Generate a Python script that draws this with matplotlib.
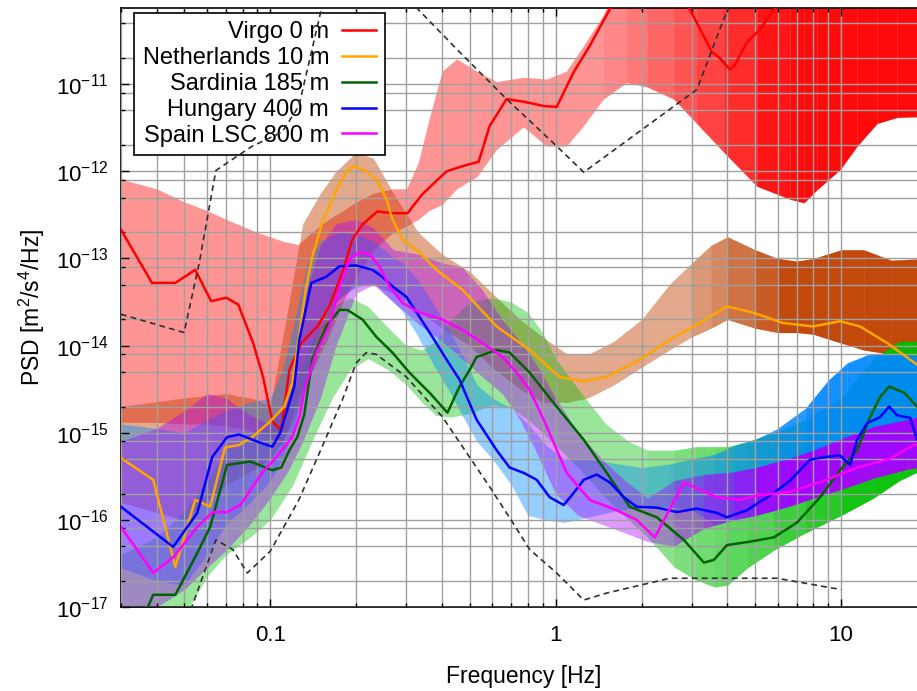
import numpy as np
import matplotlib as mpl
mpl.use('Agg')
import matplotlib.pyplot as plt
from matplotlib.ticker import LogLocator, NullFormatter, FixedLocator, FixedFormatter

plt.rcParams['font.family'] = ['Liberation Sans', 'DejaVu Sans']
plt.rcParams['mathtext.default'] = 'regular'
plt.rcParams['axes.unicode_minus'] = False

# ---- data (PSD given as log10 values) ----
# Virgo 0 m
virgo_f = [0.03, 0.0385, 0.0465, 0.0546, 0.0621, 0.0701, 0.0773, 0.0871, 0.0944, 0.1017,
           0.1093, 0.1167, 0.1285, 0.1462, 0.161, 0.179, 0.194, 0.2104, 0.2373, 0.268,
           0.3027, 0.3415, 0.4146, 0.472, 0.537, 0.587, 0.673, 0.772, 0.908, 1.008,
           1.157, 1.316, 1.547, 1.8, 2.6, 2.951, 3.527, 3.76, 4.08, 4.246,
           4.677, 5.196, 5.82, 7.0, 20]
virgo_psd = [-12.67, -13.28, -13.28, -13.13, -13.49, -13.45, -13.53, -13.97, -14.36, -14.87,
             -14.97, -14.28, -13.97, -13.78, -13.55, -13.16, -12.78, -12.61, -12.46, -12.48,
             -12.48, -12.26, -12.0, -11.94, -11.89, -11.48, -11.17, -11.2, -11.25, -11.26,
             -10.86, -10.56, -10.14, -9.8, -9.8, -10.14, -10.63, -10.7, -10.83, -10.78,
             -10.52, -10.37, -10.14, -9.8, -9.8]
virgo_band_f = [0.03, 0.04, 0.05, 0.06, 0.07, 0.08, 0.09, 0.1, 0.11, 0.125,
                0.14, 0.16, 0.18, 0.2, 0.23, 0.27, 0.3, 0.33, 0.36, 0.4,
                0.45, 0.53, 0.62, 0.77, 0.93, 1.09, 1.25, 1.47, 1.77, 2.09,
                2.59, 3.12, 3.88, 5.07, 6.62, 7.42, 8.24, 9.92, 11.38, 13.37,
                15.72, 20]
virgo_lo = [-14.88, -14.88, -14.9, -14.9, -14.92, -14.95, -15.0, -15.05, -15.15, -14.6,
            -14.3, -13.9, -13.5, -13.2, -12.9, -12.7, -12.63, -12.55, -12.45, -12.38,
            -12.2, -12.06, -11.75, -11.49, -11.71, -11.71, -11.48, -11.17, -10.98, -11.03,
            -11.17, -11.45, -11.78, -12.17, -12.32, -12.36, -12.21, -11.98, -11.71, -11.45,
            -11.38, -11.37]
virgo_hi = [-12.09, -12.2, -12.35, -12.45, -12.55, -12.63, -12.7, -12.75, -12.8, -12.84,
            -12.7, -12.55, -12.45, -12.35, -12.25, -12.2, -12.2, -11.9, -11.4, -10.85,
            -10.71, -10.85, -10.97, -10.92, -10.94, -10.85, -10.56, -10.2, -9.6, -9.5,
            -9.5, -9.5, -9.5, -9.5, -9.5, -9.5, -9.5, -9.5, -9.5, -9.5,
            -9.5, -9.5]

# Netherlands 10 m
nl_f = [0.03, 0.0389, 0.0465, 0.0546, 0.0616, 0.0694, 0.0778, 0.0865, 0.1, 0.112,
        0.1194, 0.1337, 0.1403, 0.1521, 0.1706, 0.1849, 0.197, 0.2173, 0.2355, 0.2553,
        0.268, 0.2904, 0.3334, 0.3822, 0.472, 0.621, 0.811, 1.033, 1.244, 1.51,
        1.972, 2.574, 3.125, 3.981, 4.9, 6.26, 7.98, 9.92, 11.66, 14.5,
        18.49, 20]
nl_psd = [-15.29, -15.54, -16.54, -15.77, -15.85, -15.17, -15.14, -15.05, -14.87, -14.7,
          -14.43, -13.32, -12.98, -12.59, -12.21, -12.0, -11.94, -12.0, -12.09, -12.32,
          -12.55, -12.78, -12.93, -13.13, -13.36, -13.78, -14.05, -14.36, -14.41, -14.36,
          -14.16, -13.91, -13.76, -13.55, -13.62, -13.74, -13.78, -13.72, -13.78, -13.97,
          -14.22, -14.3]
nl_band_f = [0.03, 0.05, 0.07, 0.09, 0.1, 0.115, 0.13, 0.15, 0.17, 0.2,
             0.23, 0.27, 0.33, 0.4, 0.5, 0.6, 0.75, 0.9, 1.1, 1.3,
             1.6, 2.0, 2.5, 3.0, 3.5, 4.0, 5.0, 6.0, 7.0, 8.0,
             10, 12, 15, 20]
nl_lo = [-15.8, -16.0, -15.6, -15.4, -15.3, -15.0, -14.6, -14.0, -13.5, -13.3,
         -13.3, -13.4, -13.6, -13.8, -14.0, -14.25, -14.5, -14.65, -14.65, -14.6,
         -14.45, -14.25, -14.05, -13.9, -13.8, -13.7, -13.8, -13.85, -13.85, -13.87,
         -13.97, -14.05, -14.1, -14.2]
nl_hi = [-14.7, -14.6, -14.55, -14.62, -14.7, -13.6, -12.6, -12.25, -12.0, -11.78,
         -11.85, -12.25, -12.7, -12.95, -13.15, -13.4, -13.7, -13.9, -14.1, -14.1,
         -13.95, -13.7, -13.3, -13.05, -12.85, -12.75, -12.9, -13.0, -13.03, -13.0,
         -12.9, -12.9, -13.02, -13.0]

# Sardinia 185 m
sar_f = [0.035, 0.0389, 0.0465, 0.0555, 0.0616, 0.0706, 0.0851, 0.1017, 0.1093, 0.1167,
         0.1244, 0.1316, 0.1403, 0.1571, 0.1748, 0.1862, 0.2104, 0.2355, 0.268, 0.3074,
         0.3615, 0.4178, 0.4604, 0.4993, 0.5284, 0.587, 0.621, 0.69, 0.811, 1.008,
         1.254, 1.51, 1.818, 2.261, 2.812, 3.306, 3.583, 3.981, 4.795, 5.82,
         7.01, 8.44, 9.92, 11.38, 12.64, 13.7, 14.73, 16.63, 18.49, 20]
sar_psd = [-17.2, -16.86, -16.86, -16.38, -16.08, -15.37, -15.33, -15.43, -15.4, -15.2,
           -15.05, -14.79, -14.16, -13.78, -13.59, -13.59, -13.7, -13.9, -14.08, -14.31,
           -14.54, -14.77, -14.47, -14.28, -14.13, -14.08, -14.05, -14.08, -14.31, -14.7,
           -15.08, -15.46, -15.85, -15.97, -16.23, -16.49, -16.46, -16.29, -16.25, -16.2,
           -16.03, -15.74, -15.43, -15.2, -14.82, -14.59, -14.47, -14.54, -14.7, -14.8]
sar_band_f = [0.03, 0.04, 0.05, 0.06, 0.07, 0.085, 0.1, 0.12, 0.14, 0.165,
              0.19, 0.22, 0.26, 0.3, 0.34, 0.38, 0.43, 0.5, 0.6, 0.7,
              0.8, 0.9, 1.0, 1.2, 1.5, 1.8, 2.1, 2.6, 3.1, 3.6,
              4.0, 4.7, 5.8, 7.5, 10, 13, 16, 20]
sar_lo = [-17.6, -17.35, -17.1, -16.65, -16.4, -16.2, -16.0, -15.6, -15.1, -14.6,
          -14.28, -14.15, -14.28, -14.45, -14.65, -14.8, -14.82, -14.78, -14.68, -14.72,
          -14.85, -15.0, -15.15, -15.4, -15.75, -16.0, -16.2, -16.54, -16.69, -16.77,
          -16.75, -16.55, -16.35, -16.15, -15.95, -15.75, -15.55, -15.4]
sar_hi = [-16.4, -16.2, -15.9, -15.55, -15.2, -15.0, -14.9, -14.5, -13.95, -13.55,
          -13.45, -13.55, -13.8, -14.0, -14.05, -13.95, -13.7, -13.5, -13.45, -13.5,
          -13.62, -13.85, -14.15, -14.5, -14.9, -15.1, -15.2, -15.2, -15.16, -15.16,
          -15.16, -15.1, -15.0, -14.85, -14.6, -14.15, -13.95, -13.95]

# Hungary 400 m
hu_f = [0.03, 0.0457, 0.0555, 0.0626, 0.0706, 0.0778, 0.0915, 0.1017, 0.1084, 0.1214,
        0.1265, 0.1393, 0.1571, 0.1748, 0.2, 0.228, 0.247, 0.268, 0.2999, 0.3334,
        0.37, 0.4146, 0.4604, 0.5284, 0.621, 0.69, 0.772, 0.858, 0.953, 1.067,
        1.157, 1.254, 1.393, 1.547, 1.732, 1.923, 2.261, 2.66, 3.125, 3.672,
        3.981, 4.677, 5.82, 6.62, 7.78, 8.72, 9.92, 10.76, 11.38, 12.34,
        13.7, 14.73, 15.72, 17.47, 18.49, 20]
hu_psd = [-15.85, -16.31, -15.92, -15.28, -15.05, -15.02, -15.11, -15.16, -15.0, -14.47,
          -13.93, -13.28, -13.21, -13.09, -13.08, -13.13, -13.21, -13.32, -13.44, -13.67,
          -13.9, -14.16, -14.39, -14.85, -15.2, -15.4, -15.46, -15.54, -15.74, -15.83,
          -15.69, -15.54, -15.48, -15.57, -15.74, -15.85, -15.86, -15.91, -15.87, -15.92,
          -15.97, -15.89, -15.69, -15.55, -15.31, -15.28, -15.26, -15.37, -15.08, -14.89,
          -14.82, -14.7, -14.8, -14.83, -15.08, -15.1]
hu_band_f = [0.03, 0.04, 0.05, 0.06, 0.07, 0.085, 0.1, 0.11, 0.12, 0.135,
             0.15, 0.175, 0.2, 0.23, 0.26, 0.29, 0.33, 0.37, 0.42, 0.47,
             0.53, 0.6, 0.7, 0.8, 0.93, 1.07, 1.3, 1.6, 2.0, 2.5,
             3.0, 3.6, 4.2, 5.0, 6.0, 7.5, 9.0, 10.5, 12.5, 15,
             20]
hu_lo = [-16.55, -16.7, -16.75, -16.4, -16.05, -15.8, -15.55, -15.3, -15.0, -14.3,
         -13.75, -13.45, -13.33, -13.28, -13.45, -13.6, -13.9, -14.2, -14.5, -14.8,
         -15.1, -15.3, -15.6, -15.95, -16.0, -16.03, -15.97, -15.9, -15.85, -15.85,
         -15.88, -16.05, -16.0, -15.95, -15.88, -15.75, -15.6, -15.5, -15.4, -15.37,
         -15.3]
hu_hi = [-14.9, -14.95, -15.0, -14.85, -14.75, -14.65, -14.6, -14.3, -13.8, -13.05,
         -12.8, -12.7, -12.72, -12.8, -12.95, -13.05, -13.25, -13.5, -13.8, -14.1,
         -14.45, -14.6, -14.72, -14.9, -15.15, -15.3, -15.3, -15.35, -15.4, -15.36,
         -15.3, -15.25, -15.15, -15.08, -14.95, -14.72, -14.4, -14.2, -14.1, -14.1,
         -14.12]

# Spain LSC 800 m
es_f = [0.03, 0.0389, 0.0457, 0.0555, 0.063, 0.0706, 0.0785, 0.0937, 0.105, 0.1194,
        0.127, 0.132, 0.145, 0.161, 0.1748, 0.1892, 0.205, 0.2225, 0.2412, 0.2618,
        0.2904, 0.3334, 0.4015, 0.472, 0.5545, 0.652, 0.73, 0.811, 0.908, 1.093,
        1.316, 1.637, 1.923, 2.225, 2.812, 3.672, 4.424, 5.075, 6.62, 8.72,
        11.38, 14.85, 17.47, 20]
es_psd = [-16.08, -16.61, -16.43, -16.08, -15.91, -15.91, -15.83, -15.46, -15.28, -15.05,
          -14.8, -14.5, -14.08, -13.78, -13.32, -13.01, -12.93, -12.95, -13.09, -13.32,
          -13.51, -13.62, -13.7, -13.82, -13.97, -14.13, -14.31, -14.51, -14.85, -15.46,
          -15.77, -15.89, -16.0, -16.2, -15.57, -15.74, -15.77, -15.72, -15.68, -15.55,
          -15.4, -15.3, -15.16, -15.1]
es_band_f = [0.03, 0.04, 0.05, 0.06, 0.07, 0.085, 0.1, 0.115, 0.13, 0.15,
             0.17, 0.2, 0.23, 0.27, 0.33, 0.4, 0.47, 0.55, 0.65, 0.75,
             0.85, 1.0, 1.2, 1.45, 1.75, 2.1, 2.6, 3.3, 4.2, 5.0,
             6.5, 8.0, 10, 13, 17, 20]
es_lo = [-17.1, -17.0, -16.8, -16.55, -16.35, -16.05, -15.75, -15.45, -15.1, -14.6,
         -14.0, -13.4, -13.3, -13.5, -13.75, -13.95, -14.15, -14.35, -14.55, -14.85,
         -15.2, -15.7, -15.95, -16.05, -16.15, -16.25, -16.3, -16.1, -16.0, -15.95,
         -15.85, -15.75, -15.65, -15.52, -15.42, -15.38]
es_hi = [-15.1, -14.95, -14.75, -14.55, -14.6, -14.8, -14.9, -14.6, -13.5, -12.85,
         -12.6, -12.55, -12.65, -12.9, -12.95, -13.05, -13.1, -13.35, -13.7, -13.95,
         -14.2, -14.6, -15.0, -15.3, -15.55, -15.75, -15.55, -15.48, -15.45, -15.4,
         -15.3, -15.2, -15.07, -14.93, -14.85, -14.8]

# dashed reference curves (high / low noise model)
nhnm_f = [0.03, 0.0499, 0.0564, 0.0645, 0.0739, 0.0866, 0.110, 0.126, 0.149, 0.17,
          0.25, 0.325, 0.4604, 0.673, 1.008, 1.254, 3.125, 3.882, 4.5]
nhnm_psd = [-13.64, -13.85, -13.05, -11.99, -11.86, -11.71, -11.55, -11.25, -10.22, -9.45,
            -9.6, -10.12, -10.63, -11.17, -11.71, -12.01, -11.06, -10.25, -9.8]
nlnm_f = [0.0499, 0.0645, 0.0739, 0.0831, 0.1, 0.126, 0.152, 0.179, 0.2, 0.217,
          0.235, 0.3, 0.4015, 0.4993, 0.587, 0.707, 0.811, 1.008, 1.254, 1.51,
          2.512, 3.882, 5.96, 10]
nlnm_psd = [-17.25, -16.23, -16.34, -16.61, -16.36, -15.77, -15.16, -14.62, -14.2, -14.08,
            -14.1, -14.36, -14.82, -15.28, -15.62, -16.03, -16.34, -16.61, -16.92, -16.84,
            -16.67, -16.67, -16.67, -16.8]

labels = ['Virgo 0 m', 'Netherlands 10 m', 'Sardinia 185 m', 'Hungary 400 m', 'Spain LSC 800 m']
x_ticks = [0.1, 1, 10]
x_ticklabels = ['0.1', '1', '10']
y_ticks = [1e-17, 1e-16, 1e-15, 1e-14, 1e-13, 1e-12, 1e-11]
y_ticklabels = ['$10^{-17}$', '$10^{-16}$', '$10^{-15}$', '$10^{-14}$',
                '$10^{-13}$', '$10^{-12}$', '$10^{-11}$']


def P(a):
    return 10.0 ** np.asarray(a, dtype=float)


def band(ax, f, lo, hi, color, a0, f_on, f_full, a_max):
    # light band everywhere, then it gets denser towards high frequency
    f = np.asarray(f, dtype=float)
    ax.fill_between(f, P(lo), P(hi), color=color, alpha=a0, lw=0, zorder=1)
    lo = np.asarray(lo); hi = np.asarray(hi)
    for i in range(len(f) - 1):
        fm = np.sqrt(f[i] * f[i + 1])
        t = (np.log10(fm) - np.log10(f_on)) / (np.log10(f_full) - np.log10(f_on))
        t = min(max(t, 0.0), 1.0)
        if t > 0:
            ax.fill_between(f[i:i + 2], P(lo[i:i + 2]), P(hi[i:i + 2]), color=color,
                            alpha=t * a_max, lw=0, zorder=1)


fig = plt.figure(figsize=(9.17, 6.91), dpi=100)
ax = fig.add_axes([121 / 917, 84 / 691, 806 / 917, 599 / 691])
ax.set_xscale('log')
ax.set_yscale('log')

band(ax, virgo_band_f, virgo_lo, virgo_hi, '#ff0000', 0.42, 1.4, 6.5, 0.93)
band(ax, nl_band_f, nl_lo, nl_hi, '#c04000', 0.45, 2.8, 6.5, 0.92)
band(ax, sar_band_f, sar_lo, sar_hi, '#00c000', 0.4, 2.0, 12.0, 0.9)
band(ax, hu_band_f, hu_lo, hu_hi, '#0088ff', 0.42, 2.5, 8.0, 0.88)
band(ax, es_band_f, es_lo, es_hi, '#aa00ff', 0.4, 2.5, 6.0, 0.9)

ax.plot(virgo_f, P(virgo_psd), color='#ff0000', lw=1.8, zorder=4, label=labels[0])
ax.plot(nl_f, P(nl_psd), color='#ffa500', lw=1.8, zorder=4, label=labels[1])
ax.plot(sar_f, P(sar_psd), color='#006400', lw=1.8, zorder=4, label=labels[2])
ax.plot(hu_f, P(hu_psd), color='#0000ff', lw=1.8, zorder=4, label=labels[3])
ax.plot(es_f, P(es_psd), color='#ff00ff', lw=1.8, zorder=4, label=labels[4])

ax.plot(nhnm_f, P(nhnm_psd), color='#303030', lw=1.2, ls=(0, (3.5, 2.5)), zorder=6)
ax.plot(nlnm_f, P(nlnm_psd), color='#303030', lw=1.2, ls=(0, (3.5, 2.5)), zorder=6)

ax.set_xlim(0.03, 20)
ax.set_ylim(1e-17, 7.5e-11)

# ticks + grid
ax.xaxis.set_major_locator(FixedLocator(x_ticks))
ax.xaxis.set_major_formatter(FixedFormatter(x_ticklabels))
ax.xaxis.set_minor_locator(LogLocator(base=10, subs=np.arange(2, 10)))
ax.xaxis.set_minor_formatter(NullFormatter())
ax.yaxis.set_major_locator(FixedLocator(y_ticks))
ax.yaxis.set_major_formatter(FixedFormatter(y_ticklabels))
ax.yaxis.set_minor_locator(LogLocator(base=10, subs=(2, 5, 8), numticks=20))
ax.yaxis.set_minor_formatter(NullFormatter())
ax.tick_params(which='both', direction='in', top=True, right=True, labelsize=16, width=1.0)
ax.tick_params(which='major', length=6)
ax.tick_params(which='minor', length=3)
ax.tick_params(axis='x', pad=13)
ax.tick_params(axis='y', pad=9)
ax.set_axisbelow(False)
ax.grid(which='both', color='#a0a0a0', lw=1.0)
for s in ax.spines.values():
    s.set_linewidth(1.2)

ax.set_xlabel('Frequency [Hz]', fontsize=16.5, va='top')
ax.xaxis.set_label_coords(0.5, -0.097)
ax.set_ylabel('PSD [m$^2$/s$^4$/Hz]', fontsize=16.5)
ax.yaxis.set_label_coords(-0.092, 0.5)

leg = ax.legend(loc='upper left', bbox_to_anchor=(0.0162, 0.9917), borderaxespad=0,
                markerfirst=False, fontsize=17, frameon=True, fancybox=False,
                framealpha=1, edgecolor='black', handlelength=1.45, handletextpad=0.55,
                labelspacing=0.16, borderpad=0.36)
leg.get_frame().set_linewidth(1.2)
leg.set_zorder(5)

fig.savefig('out.png', dpi=100)
